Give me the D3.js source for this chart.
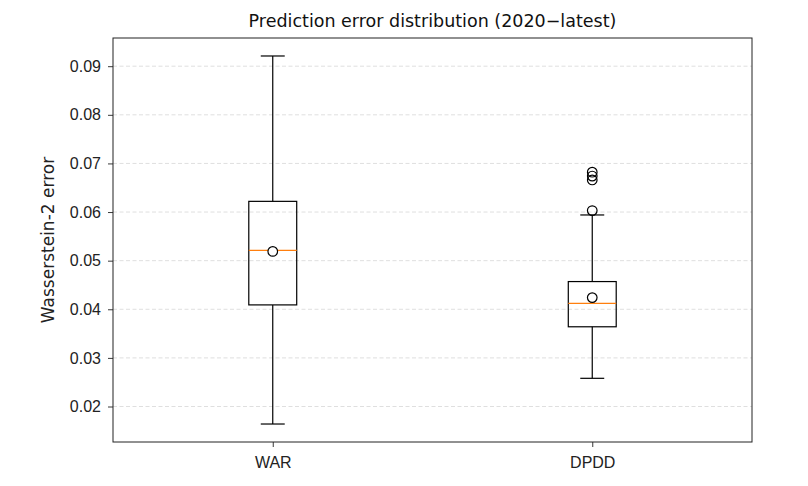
<!DOCTYPE html>
<html>
<head>
<meta charset="utf-8">
<script src="https://cdn.jsdelivr.net/npm/d3@7"></script>
<style>
  body { margin: 0; background: #fff; }
  svg { font-family: "DejaVu Sans", sans-serif; }
</style>
</head>
<body>
<svg id="chart" width="808" height="486"></svg>
<script>
// Box statistics
var categories = ["WAR", "DPDD"];
var whiskerLow = [0.0164, 0.0258];
var q1 = [0.0409, 0.0364];
var median = [0.0521, 0.0412];
var q3 = [0.0622, 0.0457];
var whiskerHigh = [0.0921, 0.0594];
var means = [0.0519, 0.0424];
var outliers = [[], [0.0603, 0.0666, 0.0674, 0.0682]];
var yTicks = [0.02, 0.03, 0.04, 0.05, 0.06, 0.07, 0.08, 0.09];

var margin = { top: 38, right: 56, bottom: 44, left: 113 };
var width = 808 - margin.left - margin.right;
var height = 486 - margin.top - margin.bottom;

var svg = d3.select("#chart");
var g = svg.append("g")
  .attr("transform", "translate(" + margin.left + "," + margin.top + ")");

// x: positions 1..n with 0.5 padding like matplotlib
var x = d3.scaleLinear().domain([0.5, categories.length + 0.5]).range([0, width]);
var y = d3.scaleLinear().domain([0.0127, 0.0958]).range([height, 0]);

// grid
g.selectAll(".grid")
  .data(yTicks)
  .enter().append("line")
  .attr("x1", 0).attr("x2", width)
  .attr("y1", function(d) { return y(d); })
  .attr("y2", function(d) { return y(d); })
  .attr("stroke", "#b0b0b0")
  .attr("stroke-opacity", 0.5)
  .attr("stroke-width", 0.8)
  .attr("stroke-dasharray", "4,2.5");

// axes
var yAxis = g.append("g")
  .call(d3.axisLeft(y).tickValues(yTicks).tickFormat(d3.format(".2f")).tickSizeOuter(0).tickSize(5).tickPadding(7));
var xAxis = g.append("g")
  .attr("transform", "translate(0," + height + ")")
  .call(d3.axisBottom(x).tickValues(d3.range(1, categories.length + 1))
    .tickFormat(function(d) { return categories[d - 1]; }).tickSizeOuter(0).tickSize(5).tickPadding(10));
[yAxis, xAxis].forEach(function(a) {
  a.select(".domain").remove();
  a.selectAll("text").attr("font-size", "16px").attr("fill", "#222");
  a.selectAll("line").attr("stroke", "#222").attr("stroke-width", 0.9);
});

// frame
g.append("rect")
  .attr("width", width).attr("height", height)
  .attr("fill", "none").attr("stroke", "#222").attr("stroke-width", 1);

var boxW = (x(2) - x(1)) * 0.15;
var capW = boxW / 2;

categories.forEach(function(c, i) {
  var cx = x(i + 1);
  // whiskers
  g.append("line")
    .attr("x1", cx).attr("x2", cx)
    .attr("y1", y(q3[i])).attr("y2", y(whiskerHigh[i]))
    .attr("stroke", "#000").attr("stroke-width", 1.2);
  g.append("line")
    .attr("x1", cx).attr("x2", cx)
    .attr("y1", y(q1[i])).attr("y2", y(whiskerLow[i]))
    .attr("stroke", "#000").attr("stroke-width", 1.2);
  // caps
  [whiskerHigh[i], whiskerLow[i]].forEach(function(v) {
    g.append("line")
      .attr("x1", cx - capW / 2).attr("x2", cx + capW / 2)
      .attr("y1", y(v)).attr("y2", y(v))
      .attr("stroke", "#000").attr("stroke-width", 1.2);
  });
  // box
  g.append("rect")
    .attr("x", cx - boxW / 2).attr("width", boxW)
    .attr("y", y(q3[i])).attr("height", y(q1[i]) - y(q3[i]))
    .attr("fill", "none").attr("stroke", "#000").attr("stroke-width", 1.2);
  // median
  g.append("line")
    .attr("x1", cx - boxW / 2).attr("x2", cx + boxW / 2)
    .attr("y1", y(median[i])).attr("y2", y(median[i]))
    .attr("stroke", "#ff7f0e").attr("stroke-width", 1.2);
  // mean
  g.append("circle")
    .attr("cx", cx).attr("cy", y(means[i])).attr("r", 4.8)
    .attr("fill", "#fff").attr("stroke", "#000").attr("stroke-width", 1.2);
  // outliers
  outliers[i].forEach(function(v) {
    g.append("circle")
      .attr("cx", cx).attr("cy", y(v)).attr("r", 4.8)
      .attr("fill", "none").attr("stroke", "#000").attr("stroke-width", 1.2);
  });
});

// title and label
svg.append("text")
  .attr("x", margin.left + width / 2).attr("y", 27)
  .attr("text-anchor", "middle")
  .attr("font-size", "17.5px").attr("fill", "#111")
  .text("Prediction error distribution (2020\u2212latest)");

svg.append("text")
  .attr("transform", "translate(54," + (margin.top + height / 2) + ") rotate(-90)")
  .attr("text-anchor", "middle")
  .attr("font-size", "17px").attr("fill", "#222")
  .text("Wasserstein-2 error");
</script>
</body>
</html>
